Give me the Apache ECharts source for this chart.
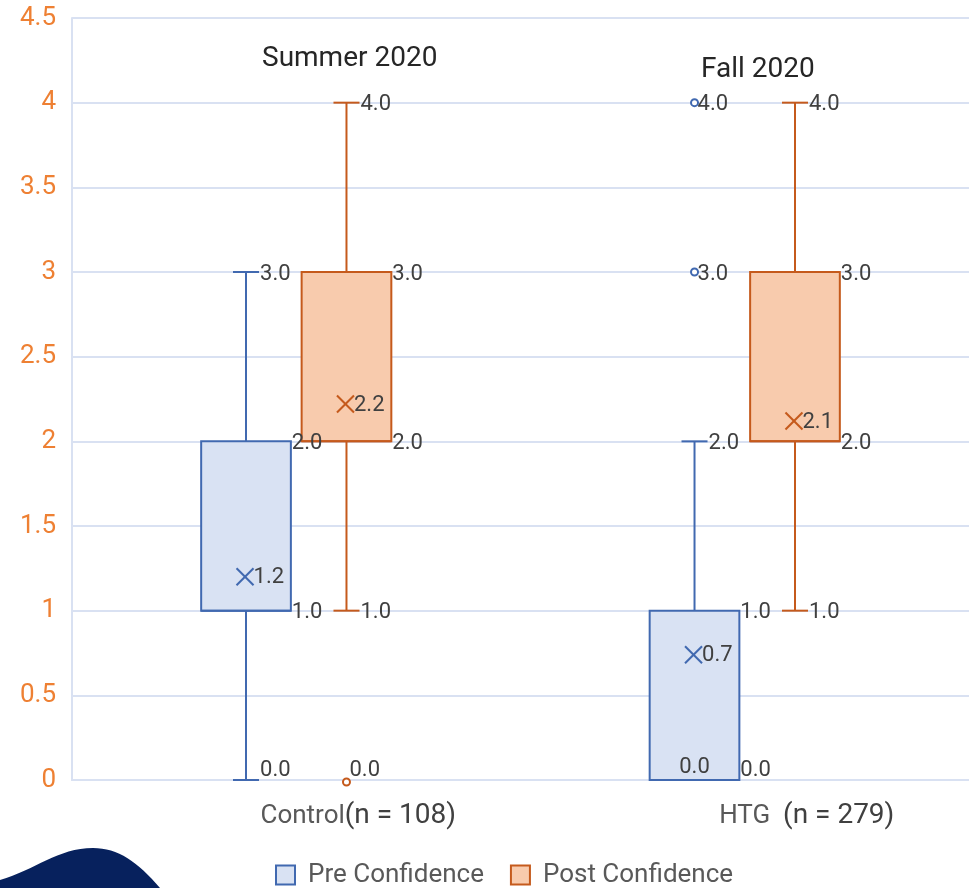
<!DOCTYPE html>
<html>
<head>
<meta charset="utf-8">
<script src="https://cdn.jsdelivr.net/npm/echarts@6/dist/echarts.min.js"></script>
<style>
  html, body { margin: 0; padding: 0; background: #fff; }
  #main { width: 969px; height: 888px; }
</style>
</head>
<body>
<div id="main"></div>
<script>
const groups = ['Control', 'HTG'];
const sampleSizes = [108, 279];
const yTicks = [0, 0.5, 1, 1.5, 2, 2.5, 3, 3.5, 4, 4.5];

// [min, q1, median, q3, max] per group
const preBox = [[0, 1, 1, 2, 3], [0, 0, 0, 1, 2]];
const postBox = [[1, 2, 2, 3, 4], [1, 2, 2, 3, 4]];
const preMean = [1.2, 0.74];
const postMean = [2.22, 2.12];
// [group index, value]
const preOutliers = [[1, 3], [1, 4]];
const postOutliers = [[0, 0]];

const preLine = '#4169b0', preFill = '#d9e2f3';
const postLine = '#c55a1c', postFill = '#f8cbad';
const labelColor = '#404040';
const gridColor = '#d9e1f2';

// decorative blob in the corner
echarts.graphic.registerShape('blob', echarts.graphic.extendShape({
  shape: {},
  buildPath: function (ctx) {
    ctx.moveTo(0, 880);
    ctx.bezierCurveTo(35, 870, 58, 848, 93, 848);
    ctx.bezierCurveTo(118, 848, 138, 862, 160, 888);
    ctx.lineTo(0, 888);
    ctx.closePath();
  }
}));

const chartDom = document.getElementById('main');
const myChart = echarts.init(chartDom);

const fmt = v => Number(v).toFixed(1);

function textEl(text, x, y, align) {
  return {
    type: 'text',
    z2: 10,
    style: {
      text: text, x: x, y: y + 2,
      fill: labelColor,
      font: '22px Roboto',
      align: align || 'left',
      verticalAlign: 'middle'
    }
  };
}

function boxRenderer(line, fill, side) {
  return function (params, api) {
    const ci = api.value(0);
    const band = api.size([1, 0])[0];
    const off = side * band * 0.112;
    const half = band * 0.1;
    const capHalf = band * 0.029;
    const vals = [1, 2, 3, 4, 5].map(i => api.value(i));
    const mean = api.value(6);
    const ys = vals.map(v => api.coord([ci, v])[1]);
    const cx = api.coord([ci, 0])[0] + off;
    const ly = v => api.coord([ci, v])[1] - (v === 0 ? 12 : 0);
    const lineStyle = { stroke: line, lineWidth: 2 };
    const children = [];
    // whiskers
    if (vals[0] < vals[1]) {
      children.push({ type: 'line', shape: { x1: cx, y1: ys[1], x2: cx, y2: ys[0] }, style: lineStyle });
      children.push({ type: 'line', shape: { x1: cx - capHalf, y1: ys[0], x2: cx + capHalf, y2: ys[0] }, style: lineStyle });
    }
    if (vals[4] > vals[3]) {
      children.push({ type: 'line', shape: { x1: cx, y1: ys[3], x2: cx, y2: ys[4] }, style: lineStyle });
      children.push({ type: 'line', shape: { x1: cx - capHalf, y1: ys[4], x2: cx + capHalf, y2: ys[4] }, style: lineStyle });
    }
    // box
    children.push({
      type: 'rect',
      shape: { x: cx - half, y: ys[3], width: half * 2, height: ys[1] - ys[3] },
      style: { fill: fill, stroke: line, lineWidth: 2 }
    });
    children.push({ type: 'line', shape: { x1: cx - half, y1: ys[2], x2: cx + half, y2: ys[2] }, style: lineStyle });
    // mean cross
    const my = api.coord([ci, mean])[1];
    const mx = cx - 1;
    const s = 8.5;
    children.push({ type: 'line', shape: { x1: mx - s, y1: my - s, x2: mx + s, y2: my + s }, style: { stroke: line, lineWidth: 2 } });
    children.push({ type: 'line', shape: { x1: mx - s, y1: my + s, x2: mx + s, y2: my - s }, style: { stroke: line, lineWidth: 2 } });
    children.push(textEl(fmt(mean), mx + s, my - 1));
    // value labels
    children.push(textEl(fmt(vals[4]), cx + (vals[4] > vals[3] ? capHalf + 1 : half + 1), ly(vals[4])));
    if (vals[4] > vals[3]) children.push(textEl(fmt(vals[3]), cx + half + 1, ly(vals[3])));
    if (vals[0] < vals[1]) {
      children.push(textEl(fmt(vals[1]), cx + half + 1, ly(vals[1])));
      children.push(textEl(fmt(vals[0]), cx + capHalf + 1, ly(vals[0])));
    } else {
      children.push(textEl(fmt(vals[1]), cx + half + 1, ly(vals[1])));
      children.push(textEl(fmt(vals[0]), cx, ly(vals[0]) - 3, 'center'));
    }
    return { type: 'group', children: children };
  };
}

function outlierRenderer(line, side) {
  return function (params, api) {
    const ci = api.value(0);
    const v = api.value(1);
    const band = api.size([1, 0])[0];
    const pt = api.coord([ci, v]);
    const cx = pt[0] + side * band * 0.112;
    return {
      type: 'group',
      children: [
        { type: 'circle', shape: { cx: cx, cy: pt[1] + (v === 0 ? 2 : 0), r: 3.5 }, style: { fill: '#fff', stroke: line, lineWidth: 2 } },
        textEl(fmt(v), cx + 3, pt[1] - (v === 0 ? 12 : 0))
      ]
    };
  };
}

const boxData = (boxes, means) => boxes.map((b, i) => [i].concat(b, [means[i]]));

const option = {
  animation: false,
  textStyle: { fontFamily: 'Roboto' },
  grid: { left: 72, right: 0, top: 18, bottom: 108 },
  legend: {
    top: 857,
    left: 270,
    itemWidth: 19,
    itemHeight: 19,
    itemGap: 26,
    icon: 'rect',
    textStyle: { fontSize: 26, color: '#595959', fontFamily: 'Roboto', padding: [0, 0, 0, 8] },
    data: [
      { name: 'Pre Confidence', itemStyle: { color: preFill, borderColor: preLine, borderWidth: 2 } },
      { name: 'Post Confidence', itemStyle: { color: postFill, borderColor: postLine, borderWidth: 2 } }
    ]
  },
  xAxis: {
    type: 'category',
    data: groups,
    axisLine: { lineStyle: { color: gridColor, width: 2 } },
    axisTick: { show: false },
    axisLabel: {
      margin: 22,
      padding: [0, 0, 0, 124],
      formatter: (val, idx) => '{a|' + val + '}' + (idx === 1 ? '{a|  }' : '') + '{b|(n = ' + sampleSizes[idx] + ')}',
      rich: {
        a: { fontSize: 26, color: '#595959', fontFamily: 'Roboto' },
        b: { fontSize: 28, color: '#404040', fontFamily: 'Roboto' }
      }
    }
  },
  yAxis: {
    type: 'value',
    min: yTicks[0],
    max: yTicks[yTicks.length - 1],
    interval: 0.5,
    axisLine: { show: true, lineStyle: { color: gridColor, width: 2 } },
    axisTick: { show: false },
    splitLine: { lineStyle: { color: gridColor, width: 2 } },
    axisLabel: { color: '#ee8033', fontSize: 26, margin: 16, fontFamily: 'Roboto' }
  },
  graphic: [
    { type: 'text', left: 262, top: 45, style: { text: 'Summer 2020', font: '28px Roboto', fill: '#262626' } },
    { type: 'text', left: 701, top: 56, style: { text: 'Fall 2020', font: '28px Roboto', fill: '#262626' } },
    { type: 'blob', x: 0, y: 0, style: { fill: '#07215d' } }
  ],
  series: [
    {
      name: 'Pre Confidence', type: 'custom',
      itemStyle: { color: preFill, borderColor: preLine },
      renderItem: boxRenderer(preLine, preFill, -1),
      encode: { x: 0, y: [1, 2, 3, 4, 5] },
      data: boxData(preBox, preMean), z: 3
    },
    {
      name: 'Post Confidence', type: 'custom',
      itemStyle: { color: postFill, borderColor: postLine },
      renderItem: boxRenderer(postLine, postFill, 1),
      encode: { x: 0, y: [1, 2, 3, 4, 5] },
      data: boxData(postBox, postMean), z: 3
    },
    {
      name: 'Pre Confidence', type: 'custom',
      renderItem: outlierRenderer(preLine, -1),
      encode: { x: 0, y: 1 },
      data: preOutliers, z: 4
    },
    {
      name: 'Post Confidence', type: 'custom',
      renderItem: outlierRenderer(postLine, 1),
      encode: { x: 0, y: 1 },
      data: postOutliers, z: 4
    }
  ]
};

myChart.setOption(option);
</script>
</body>
</html>
